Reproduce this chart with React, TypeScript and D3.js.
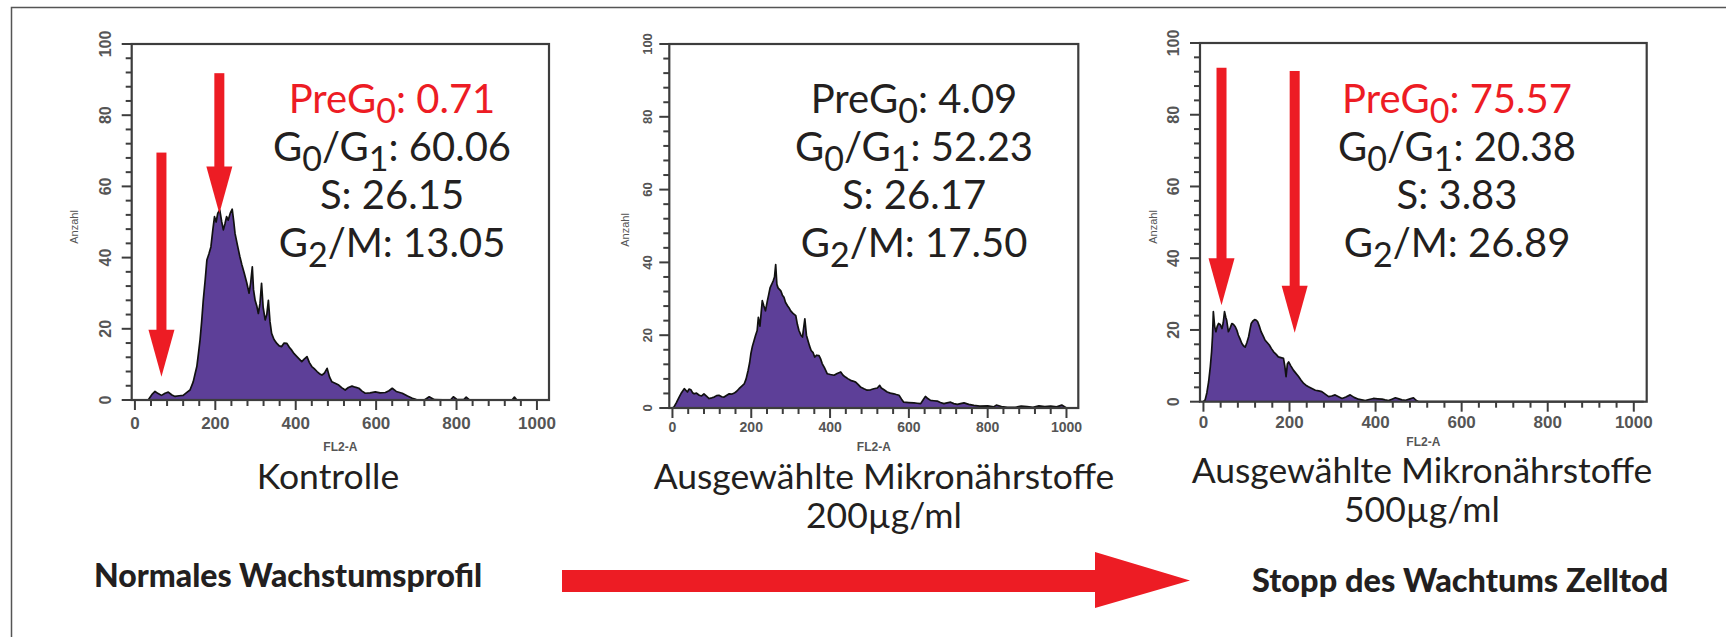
import React from "react";
import * as d3 from "d3";

// FL2-A histograms: [channel, count]
const kontrolleHist: [number, number][] = [
  [0, 0], [33, 0], [42, 1.5], [50, 2.4], [58, 1.8], [66, 1.3], [75, 1.9], [83, 2.2], [92, 1.4], [100, 1.0],
  [110, 1.2], [120, 1.3], [130, 2.2], [137, 2.8], [145, 5.1], [150, 7.5], [154, 9.4], [158, 13], [162, 16.9],
  [166, 22], [170, 28], [175, 34], [179, 39.3], [184, 41], [189, 43], [194, 48], [198, 51.5], [202, 50],
  [206, 52.4], [211, 53.4], [216, 50], [220, 47.8], [224, 49.5], [228, 51.5], [232, 50.5], [237, 52.4],
  [242, 53.6], [246, 50], [249, 46.8], [255, 43.5], [261, 40.3], [266, 38], [272, 35.6], [278, 33], [284, 30],
  [288, 33], [292, 37.4], [295, 31], [299, 28], [303, 26.5], [307, 24.3], [311, 27], [315, 32.8], [319, 26],
  [324, 22.5], [328, 24], [332, 28], [336, 22], [340, 18.7], [346, 17], [353, 15.9], [359, 15.2], [365, 15],
  [371, 16], [378, 15.9], [384, 14.8], [390, 14], [396, 13], [403, 12.2], [409, 11.5], [415, 10.8],
  [421, 11.5], [428, 12.2], [434, 10.5], [440, 9.4], [446, 8.8], [453, 8], [459, 7.4], [465, 7], [471, 7.5],
  [478, 8.9], [484, 6.5], [490, 5.1], [498, 4.7], [507, 4.2], [515, 3.4], [523, 2.8], [531, 3.5], [540, 3.9],
  [548, 3.6], [557, 3.3], [565, 2.5], [573, 1.9], [585, 2.0], [598, 2.3], [610, 2.0], [623, 2.1], [632, 2.6],
  [640, 3.3], [650, 2.4], [665, 1.9], [678, 1.1], [690, 0.5], [700, 0.1], [720, 0], [732, 0.9], [745, 0.1],
  [785, 0], [792, 0.9], [800, 0.2], [818, 0.1], [824, 0.8], [832, 0], [938, 0], [944, 0.8], [950, 0], [1023, 0],
];

const mikro200Hist: [number, number][] = [
  [0, 0], [4, 0.3], [10, 1.5], [17, 3.0], [23, 4.2], [30, 5.3], [38, 4.4], [42, 5.2], [47, 5.0], [51, 4.2],
  [55, 3.9], [61, 4.1], [68, 3.5], [74, 3.3], [80, 3.9], [87, 3.2], [93, 2.6], [100, 2.8], [106, 3.0],
  [112, 3.4], [118, 3.5], [125, 3.1], [131, 3.0], [138, 3.5], [144, 3.9], [150, 3.8], [157, 4.1], [163, 4.6],
  [169, 5.3], [176, 6.0], [182, 6.6], [187, 8], [192, 10.3], [196, 12.5], [199, 14.9], [203, 17], [207, 18.5],
  [211, 20], [215, 21.3], [218, 24.9], [222, 22.5], [225, 26], [228, 29.5], [232, 28], [236, 26.7],
  [241, 29.5], [244, 31], [248, 33.1], [252, 34], [256, 35], [259, 36], [262, 39.4], [265, 34], [268, 33],
  [275, 32.2], [279, 31], [283, 30.4], [287, 29], [292, 28.1], [296, 27.5], [300, 26.7], [306, 26],
  [313, 25.4], [317, 23], [321, 21.3], [326, 20], [330, 19.5], [333, 22], [336, 24.5], [340, 20], [344, 18.5],
  [348, 17], [352, 15.8], [357, 15.2], [361, 14.0], [366, 14.5], [372, 14.4], [376, 13.5], [380, 12.2],
  [386, 11], [393, 9.4], [401, 9.2], [410, 9.0], [418, 9.5], [427, 9.9], [433, 9.0], [439, 8.5], [446, 8.0],
  [452, 7.6], [458, 7.4], [465, 7.1], [471, 6.5], [477, 5.8], [486, 5.3], [494, 4.9], [503, 5.0], [511, 5.3],
  [520, 5.5], [526, 6.2], [530, 5.5], [537, 5.0], [545, 4.4], [553, 4.1], [562, 3.9], [568, 3.7], [575, 3.5],
  [581, 2.5], [587, 1.6], [600, 1.5], [613, 1.4], [621, 1.3], [630, 1.2], [636, 2.2], [642, 3.2], [648, 2.6],
  [655, 2.1], [663, 2.0], [672, 1.9], [680, 1.5], [689, 1.2], [697, 1.4], [706, 1.6], [714, 1.2], [723, 1.0],
  [731, 1.2], [740, 1.4], [752, 1.0], [765, 0.7], [780, 0.5], [800, 0.6], [815, 0.3], [822, 0.8], [835, 0.4],
  [850, 0.2], [870, 0.2], [885, 0.5], [900, 0.4], [915, 0.2], [930, 0.6], [945, 0.4], [960, 0.5], [975, 0.3],
  [988, 0.8], [1000, 0], [1023, 0],
];

const mikro500Hist: [number, number][] = [
  [0, 0], [4, 0.5], [8, 2.5], [12, 5.5], [16, 9.8], [19, 14], [21, 18.1], [23, 25.1], [26, 21], [29, 19.5],
  [32, 21], [35, 21.8], [39, 21.5], [43, 20.4], [46, 22], [49, 25.1], [52, 23.5], [54, 22.7], [58, 19.5],
  [62, 20.5], [66, 21.8], [70, 21.5], [74, 20.9], [78, 19.8], [81, 18.6], [85, 17.5], [89, 16.3], [93, 15.6],
  [97, 15.2], [101, 16.5], [105, 18.1], [108, 20], [111, 21.8], [115, 22.5], [119, 22.9], [123, 22.7],
  [126, 22.3], [130, 21], [134, 19.5], [139, 18.3], [143, 17.2], [148, 16.5], [153, 15.8], [158, 14.8],
  [163, 13.9], [169, 13.2], [174, 12.5], [180, 12.3], [186, 12.1], [189, 10], [192, 7], [195, 10.5],
  [198, 11.1], [203, 10], [209, 8.8], [215, 7.9], [221, 7.0], [227, 6.0], [233, 5.1], [238, 4.6], [244, 4.2],
  [252, 3.7], [260, 3.2], [268, 3.0], [275, 2.8], [283, 2.1], [291, 1.4], [298, 1.6], [306, 1.9], [314, 1.4],
  [322, 0.9], [331, 1.3], [341, 1.9], [350, 1.2], [360, 0.7], [368, 0.5], [376, 0.3], [385, 0.6], [395, 0.9],
  [405, 0.8], [415, 0.7], [422, 0.5], [430, 0.3], [438, 0.7], [446, 1.1], [454, 0.8], [461, 0.5], [470, 0.4],
  [480, 0.8], [488, 1.1], [494, 0.4], [500, 0], [1023, 0],
];

// cell cycle percentages: PreG0, G0/G1, S, G2/M
const kontrolleStats = [0.71, 60.06, 26.15, 13.05];
const mikro200Stats = [4.09, 52.23, 26.17, 17.5];
const mikro500Stats = [75.57, 20.38, 3.83, 26.89];

// red arrows: FL2-A channel, count at arrow start and at arrow tip
const kontrolleArrows = [
  { fl2: 66, from: 69.5, to: 6.5 },
  { fl2: 210, from: 91.8, to: 52.4 },
];
const mikro500Arrows = [
  { fl2: 42, from: 93.1, to: 26.9 },
  { fl2: 212, from: 92.2, to: 19.2 },
];

const phaseLabels = [
  [{ t: "PreG" }, { t: "0", sub: true }],
  [{ t: "G" }, { t: "0", sub: true }, { t: "/G" }, { t: "1", sub: true }],
  [{ t: "S" }],
  [{ t: "G" }, { t: "2", sub: true }, { t: "/M" }],
];

const xTicks = [0, 200, 400, 600, 800, 1000];
const yTicks = [0, 20, 40, 60, 80, 100];
const xMinor = d3.range(0, 1001, 40);
const yMinor = d3.range(0, 101, 4);

const RED = "#ed1c24";
const PURPLE = "#5d3f98";
const INK = "#231f20";
const FONT = "Lato, 'Open Sans', sans-serif";

const panels = [
  {
    hist: kontrolleHist, stats: kontrolleStats, arrows: kontrolleArrows, redFirst: true,
    box: { l: 131.7, r: 549, t: 44, b: 400 }, statX: 392, yLabX: 105, tickFs: 17,
    anz: [74, 227], fl2Y: 447, xLabY: 429,
    caption: ["Kontrolle"], capX: 328, capY: 489,
  },
  {
    hist: mikro200Hist, stats: mikro200Stats, arrows: [], redFirst: false,
    box: { l: 669.3, r: 1078.3, t: 44, b: 408 }, statX: 914, yLabX: 647, tickFs: 14,
    anz: [625, 230], fl2Y: 447, xLabY: 432,
    caption: ["Ausgewählte Mikronährstoffe", "200µg/ml"], capX: 884, capY: 489,
  },
  {
    hist: mikro500Hist, stats: mikro500Stats, arrows: mikro500Arrows, redFirst: true,
    box: { l: 1200, r: 1646.7, t: 43, b: 401.7 }, statX: 1457, yLabX: 1173, tickFs: 17,
    anz: [1153, 227], fl2Y: 442, xLabY: 428,
    caption: ["Ausgewählte Mikronährstoffe", "500µg/ml"], capX: 1422, capY: 483,
  },
];

function Panel({ p }: { p: any }) {
  const { box } = p;
  const x = d3.scaleLinear().domain([-8, 1030]).range([box.l, box.r]);
  const y = d3.scaleLinear().domain([0, 100]).range([box.b, box.t]);
  const area = d3.area<[number, number]>()
    .x(d => x(d[0])).y0(y(0)).y1(d => y(d[1]));
  const line = d3.line<[number, number]>().x(d => x(d[0])).y(d => y(d[1]));
  const axisGray = "#3d3d3d";
  const lineH = 48;
  const subShift = 10;

  return (
    <g>
      <path d={area(p.hist) || ""} fill={PURPLE} />
      <path d={line(p.hist) || ""} fill="none" stroke="#111" strokeWidth={1.7} strokeLinejoin="round" />
      <rect x={box.l} y={box.t} width={box.r - box.l} height={box.b - box.t}
        fill="none" stroke={axisGray} strokeWidth={2.2} />
      {yMinor.map(v => (
        <line key={"ym" + v} x1={box.l} x2={box.l - (v % 20 === 0 ? 10 : 6)} y1={y(v)} y2={y(v)}
          stroke={axisGray} strokeWidth={2} />
      ))}
      {xMinor.map(v => (
        <line key={"xm" + v} y1={box.b} y2={box.b + (v % 200 === 0 ? 10 : 6)} x1={x(v)} x2={x(v)}
          stroke={axisGray} strokeWidth={2} />
      ))}
      {yTicks.map(v => (
        <text key={"yl" + v} transform={`translate(${p.yLabX},${y(v)}) rotate(-90)`} textAnchor="middle"
          dy="0.35em" fontFamily="'Liberation Sans', Arial, sans-serif" fontWeight="bold"
          fontSize={p.tickFs - 1} fill="#555">{v}</text>
      ))}
      {xTicks.map(v => (
        <text key={"xl" + v} x={x(v)} y={p.xLabY} textAnchor="middle"
          fontFamily="'Liberation Sans', Arial, sans-serif" fontWeight="bold"
          fontSize={p.tickFs} fill="#555">{v}</text>
      ))}
      <text x={(box.l + box.r) / 2} y={p.fl2Y} dy="0.35em" textAnchor="middle"
        fontFamily="'Liberation Sans', Arial, sans-serif" fontWeight="bold" fontSize={12} fill="#555">FL2-A</text>
      <text transform={`translate(${p.anz[0]},${p.anz[1]}) rotate(-90)`} textAnchor="middle" dy="0.35em"
        fontFamily="'Liberation Sans', Arial, sans-serif" fontSize={11} fill="#555">Anzahl</text>

      {p.arrows.map((a: any, i: number) => {
        const cx = x(a.fl2);
        const top = y(a.from);
        const tip = y(a.to);
        const head = 47;
        return (
          <g key={"ar" + i} fill={RED}>
            <rect x={cx - 5} y={top} width={10} height={tip - head - top + 1} />
            <path d={`M${cx - 13},${tip - head}L${cx + 13},${tip - head}L${cx},${tip}Z`} />
          </g>
        );
      })}

      {p.stats.map((v: number, i: number) => (
        <text key={"st" + i} x={p.statX} y={113 + i * lineH} textAnchor="middle"
          fontFamily={FONT} fontSize={40} fill={i === 0 && p.redFirst ? RED : INK}>
          {phaseLabels[i].map((s: any, j: number) => s.sub
            ? <tspan key={j} dy={subShift} fontSize={34}>{s.t}</tspan>
            : <tspan key={j} dy={j > 0 && phaseLabels[i][j - 1].sub ? -subShift : 0}>{s.t}</tspan>)}
          <tspan dy={phaseLabels[i][phaseLabels[i].length - 1].sub ? -subShift : 0}>{": " + v.toFixed(2)}</tspan>
        </text>
      ))}

      {p.caption.map((c: string, i: number) => (
        <text key={"cap" + i} x={p.capX} y={p.capY + i * 39} textAnchor="middle"
          fontFamily={FONT} fontSize={35.5} fill={INK}>{c}</text>
      ))}
    </g>
  );
}

export default function App() {
  const W = 1726;
  const H = 637;
  return (
    <div style={{ position: "absolute", left: 0, top: 0 }}>
      <svg width={W} height={H} style={{ display: "block", background: "#fff" }}>
        <path d={`M${W},7.5H11.5V${H}`} fill="none" stroke="#555" strokeWidth={1.5} />
        {panels.map((p, i) => <Panel key={i} p={p} />)}
        <text x={94} y={587} fontFamily={FONT} fontWeight="900" fontSize={32} fill={INK}>
          Normales Wachstumsprofil
        </text>
        <path d="M562,570H1095V552L1190,580.5L1095,608V592H562Z" fill={RED} />
        <text x={1252} y={592} fontFamily={FONT} fontWeight="900" fontSize={32.5} fill={INK}>
          Stopp des Wachtums Zelltod
        </text>
      </svg>
    </div>
  );
}
